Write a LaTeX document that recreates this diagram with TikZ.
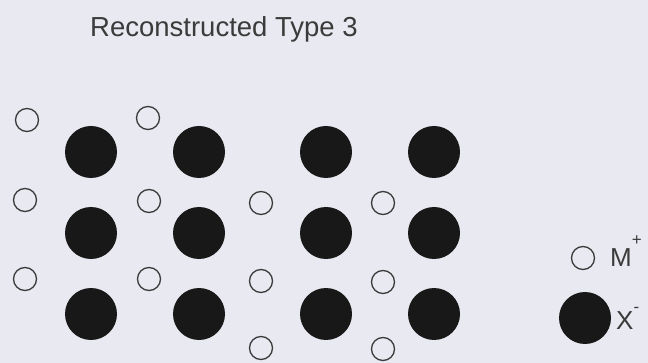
\documentclass[tikz,border=0pt]{standalone}
\usepackage{fontspec}
\setmainfont{Liberation Sans}
\usetikzlibrary{positioning}
\definecolor{paper}{RGB}{233,233,241}
\definecolor{ink}{RGB}{24,24,24}
\newcommand{\charge}[2]{\raisebox{#1}{\fontsize{17}{17}\selectfont #2}}
\tikzset{
  mion/.style={circle, draw=ink!85, line width=1.3pt, minimum size=23pt, inner sep=0pt},
  xion/.style={circle, fill=ink, minimum size=52pt, inner sep=0pt},
  lbl/.style={text=ink!85, font=\fontsize{26}{28}\selectfont, inner sep=0pt}
}
\begin{document}
\begin{tikzpicture}[x=1pt, y=-1pt]
  \fill[paper] (0,0) rectangle (648,363);
  \useasboundingbox (0,0) rectangle (648,363);

  \node[lbl, anchor=base west, font=\fontsize{27.5}{30}\selectfont] (title) at (90,37) {Reconstructed Type 3};

  % anions X-
  \foreach \c/\x in {1/91,2/199,3/326,4/434}
    \foreach \r/\y in {1/152,2/233,3/314}
      \node[xion] (x\r\c) at (\x,\y) {};

  % cations M+
  \foreach \n/\x/\y in {1/27/120, 2/148/118, 3/25/200, 4/149/201, 5/261/203, 6/383/203,
                        7/25/279, 8/149/279, 9/261/281, 10/383/282, 11/261/348, 12/383/349}
    \node[mion] (m\n) at (\x,\y) {};

  % legend
  \node[mion] (keym) at (583,258) {};
  \node[xion] (keyx) at (585,318) {};
  \node[lbl, anchor=base west] (keymlbl) at (610,267) {M\charge{21pt}{+}};
  \node[lbl, anchor=base west] (keyxlbl) at (616,330) {X\charge{17pt}{-}};
\end{tikzpicture}
\end{document}
